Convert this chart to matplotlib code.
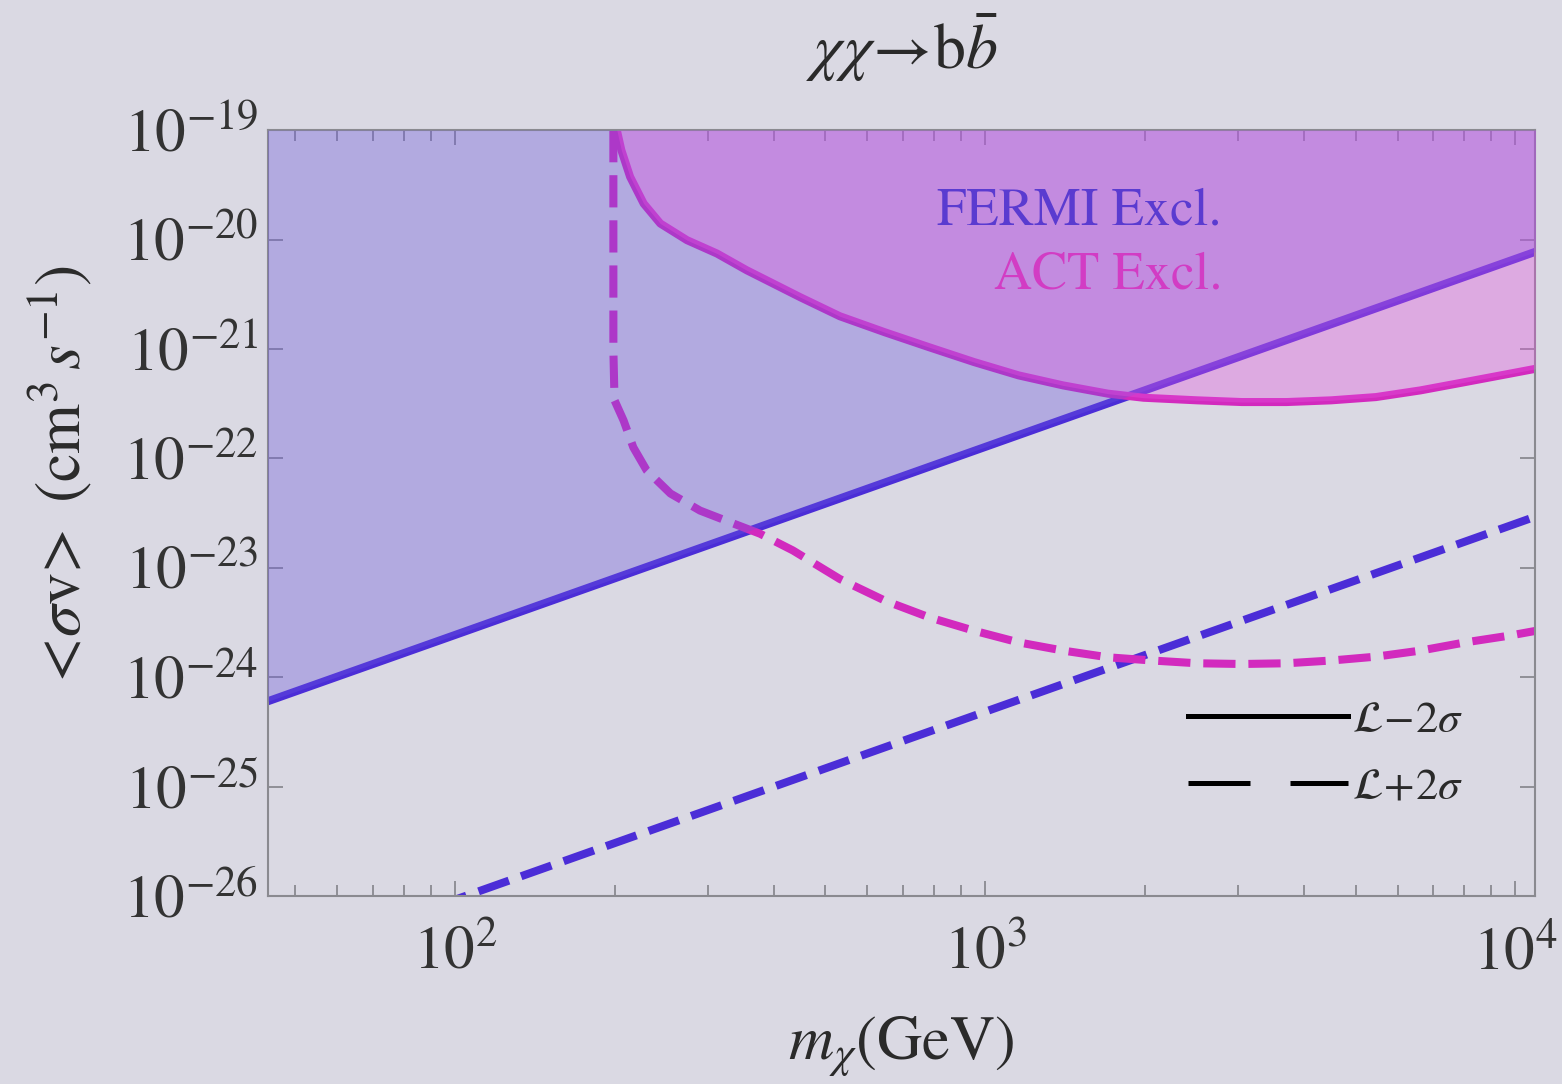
import numpy as np
import matplotlib
matplotlib.use("Agg")
import matplotlib.pyplot as plt
from matplotlib.lines import Line2D
from matplotlib.ticker import LogLocator, NullFormatter

plt.rcParams['font.family'] = ['STIXGeneral', 'DejaVu Sans']
plt.rcParams['mathtext.fontset'] = 'stix'

# FERMI limits (power laws), mass in GeV, <sigma v> in cm^3/s
fermi_mass = [44, 100, 1000, 10000, 11000]
fermi_lo = [5.94e-25, 2.43e-24, 1.27e-22, 6.64e-21, 7.82e-21]   # L - 2 sigma
fermi_hi = [2.26e-27, 9.25e-27, 4.83e-25, 2.52e-23, 2.97e-23]   # L + 2 sigma

# ACT limits
act_lo_mass = [202, 206, 214, 227, 244, 274, 312, 355, 405, 448, 532, 647,
               785, 953, 1157, 1404, 1706, 1991, 2513, 3051, 3705, 4498,
               5461, 6629, 8050, 9768, 10975]
act_lo = [1.0e-19, 6.56e-20, 3.74e-20, 2.13e-20, 1.40e-20, 9.86e-21, 7.45e-21,
          5.24e-21, 3.80e-21, 2.97e-21, 1.99e-21, 1.42e-21, 1.035e-21, 7.59e-22,
          5.73e-22, 4.64e-22, 3.90e-22, 3.58e-22, 3.39e-22, 3.27e-22, 3.27e-22,
          3.39e-22, 3.63e-22, 4.18e-22, 4.98e-22, 5.94e-22, 6.61e-22]

act_hi_mass = [199, 199, 199, 200, 208, 217, 230, 255, 290, 335, 376, 434,
               532, 647, 785, 953, 1157, 1404, 1706, 2070, 2513, 3051, 3705,
               4498, 5461, 6629, 8050, 9768, 10975]
act_hi = [1.0e-19, 7.98e-21, 9.7e-22, 3.39e-22, 2.22e-22, 1.26e-22, 7.75e-23,
          4.77e-23, 3.33e-23, 2.54e-23, 2.05e-23, 1.44e-23, 7.9e-24, 5.01e-24,
          3.52e-24, 2.66e-24, 2.08e-24, 1.75e-24, 1.52e-24, 1.42e-24, 1.34e-24,
          1.32e-24, 1.34e-24, 1.42e-24, 1.54e-24, 1.75e-24, 2.08e-24, 2.40e-24,
          2.66e-24]

bg = '#dad9e3'
fermi_col = '#4b2dd7'
act_col = '#d22abe'
txt = '#2a2a2a'

fig = plt.figure(figsize=(15.62, 10.84), dpi=100, facecolor=bg)
ax = fig.add_axes([0.1716, 0.1734, 0.8111, 0.7066], facecolor=bg)
ax.set_xscale('log')
ax.set_yscale('log')
ax.set_xlim(44.4, 10900)
ax.set_ylim(1e-26, 1e-19)

# lines below, translucent exclusion fills on top (as in the original)
ax.plot(fermi_mass, fermi_lo, color=fermi_col, lw=5.8, zorder=2)
ax.plot(fermi_mass, fermi_hi, color=fermi_col, lw=5.8, dashes=(4, 1.6), zorder=2)
ax.plot(act_lo_mass, act_lo, color=act_col, lw=5.8, zorder=2)
ax.plot(act_hi_mass, act_hi, color=act_col, lw=5.8, dashes=(4, 1.6), zorder=2)

ax.fill_between(fermi_mass, fermi_lo, 1e-19, color='#6853dd', alpha=0.35,
                lw=0, zorder=3)
ax.fill_between(act_lo_mass, act_lo, 1e-19, color='#e553e0', alpha=0.35,
                lw=0, zorder=3)

ax.text(0.753, 0.893, 'FERMI Excl.', transform=ax.transAxes, ha='right',
        va='center', fontsize=38, color='#5a3bd0', zorder=4)
ax.text(0.753, 0.81, 'ACT Excl.', transform=ax.transAxes, ha='right',
        va='center', fontsize=38, color='#d23cc4', zorder=4)

handles = [Line2D([], [], color='k', lw=3.6),
           Line2D([], [], color='k', lw=3.6, dashes=(12.4, 8))]
ax.legend(handles, [r'$\mathcal{L}\!-\!2\sigma$', r'$\mathcal{L}\!+\!2\sigma$'],
          loc='lower right', bbox_to_anchor=(0.975, 0.063), frameon=False,
          fontsize=32, handlelength=3.6, handletextpad=0.1,
          labelspacing=0.6, labelcolor=txt)

ax.set_title(r'$\chi\chi\!\rightarrow\!\mathrm{b}\bar{b}$', fontsize=46,
             pad=44, color=txt)
ax.set_xlabel(r'$m_\chi(\mathrm{GeV})$', fontsize=45, labelpad=23, color=txt)
ax.set_ylabel(r'$<\!\sigma\mathrm{v}\!>\ (\mathrm{cm}^3\,s^{-1})$', fontsize=46,
              color=txt)
ax.yaxis.set_label_coords(-0.137, 0.546)

ax.yaxis.set_major_locator(LogLocator(base=10, numticks=20))
ax.yaxis.set_minor_locator(LogLocator(base=10, subs=[], numticks=20))
ax.xaxis.set_minor_locator(LogLocator(base=10, subs=np.arange(2, 10), numticks=20))
ax.xaxis.set_minor_formatter(NullFormatter())

ax.tick_params(which='both', direction='in', top=True, right=True,
               color='#8a8a90', width=1.3, labelsize=44, labelcolor='#333333')
ax.tick_params(which='major', length=11)
ax.tick_params(which='minor', length=8)
ax.tick_params(axis='x', pad=22)
ax.tick_params(axis='y', pad=7)
for sp in ax.spines.values():
    sp.set_color('#8a8a90')
    sp.set_linewidth(1.5)

fig.savefig('out.png', dpi=100, facecolor=bg)
